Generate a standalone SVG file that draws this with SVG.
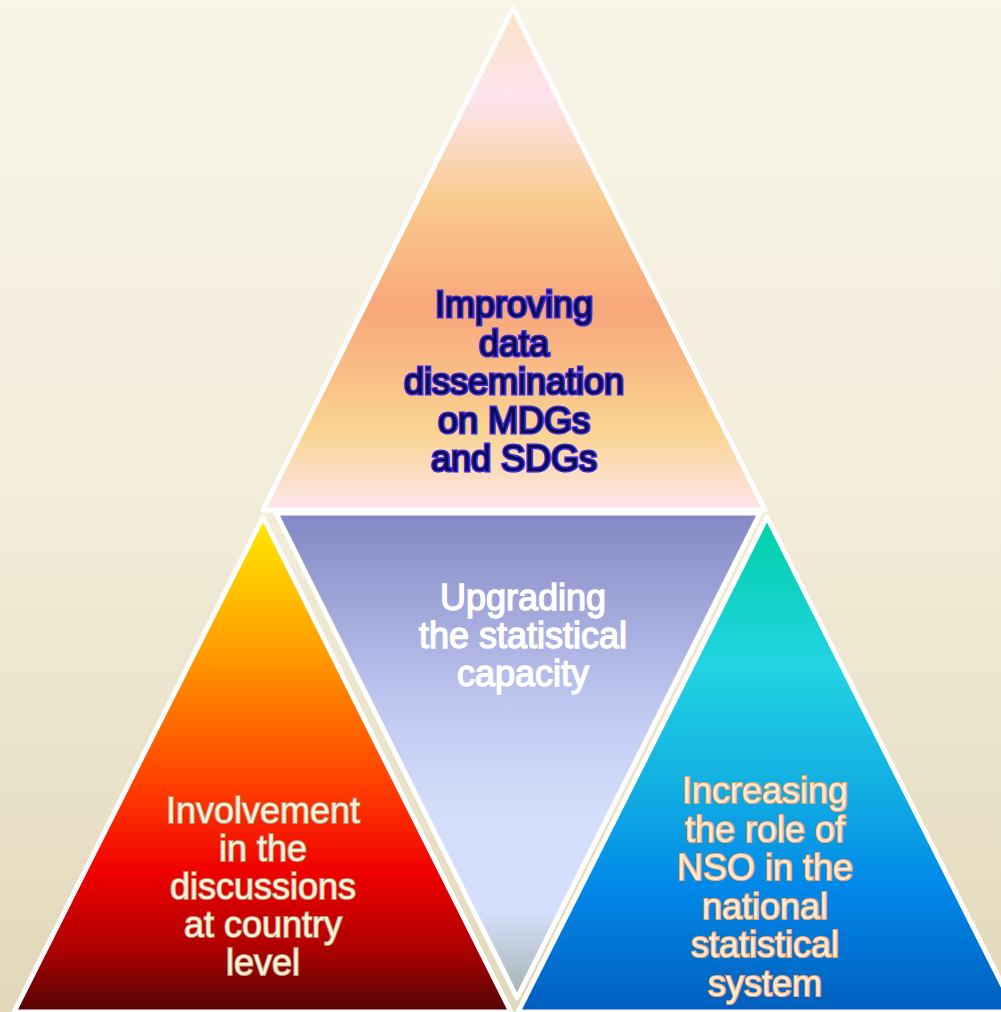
<svg xmlns="http://www.w3.org/2000/svg" width="1001" height="1012" viewBox="0 0 1001 1012">
<defs>
<linearGradient id="bg" x1="0" y1="0" x2="0" y2="1">
<stop offset="0" stop-color="#f8f5e9"/>
<stop offset="0.5" stop-color="#f2ecd9"/>
<stop offset="1" stop-color="#e2d8bb"/>
</linearGradient>
<linearGradient id="gTop" gradientUnits="userSpaceOnUse" x1="0" y1="8" x2="0" y2="510">
<stop offset="0" stop-color="#fae2c4"/>
<stop offset="0.18" stop-color="#fde4ee"/>
<stop offset="0.38" stop-color="#f9cb8e"/>
<stop offset="0.6" stop-color="#f8a77b"/>
<stop offset="0.84" stop-color="#fad390"/>
<stop offset="1" stop-color="#fde6ea"/>
</linearGradient>
<linearGradient id="gMid" gradientUnits="userSpaceOnUse" x1="0" y1="513" x2="0" y2="1000">
<stop offset="0" stop-color="#8387c3"/>
<stop offset="0.4" stop-color="#c0c8f1"/>
<stop offset="0.6" stop-color="#d3ddf9"/>
<stop offset="0.82" stop-color="#d5defa"/>
<stop offset="1" stop-color="#a3b2ae"/>
</linearGradient>
<linearGradient id="gLeft" gradientUnits="userSpaceOnUse" x1="0" y1="517" x2="0" y2="1010">
<stop offset="0" stop-color="#ffec00"/>
<stop offset="0.28" stop-color="#ff9a00"/>
<stop offset="0.55" stop-color="#ff3c00"/>
<stop offset="0.72" stop-color="#f00000"/>
<stop offset="0.87" stop-color="#b00000"/>
<stop offset="1" stop-color="#560404"/>
</linearGradient>
<linearGradient id="gRight" gradientUnits="userSpaceOnUse" x1="0" y1="517" x2="0" y2="1010">
<stop offset="0" stop-color="#00d0a6"/>
<stop offset="0.3" stop-color="#22d4e2"/>
<stop offset="0.55" stop-color="#12aee2"/>
<stop offset="0.75" stop-color="#0188e8"/>
<stop offset="1" stop-color="#005fbf"/>
</linearGradient>
<style>
.tri{stroke:#ffffff;stroke-width:5;stroke-linejoin:round}
text{font-family:"Liberation Sans",Arial,sans-serif;font-size:36px;text-anchor:middle;paint-order:stroke}
.tTop{fill:#0c0c4a;stroke:#3a2ae0;stroke-width:3.2}
.tMid{fill:#ffffff;stroke:#ffffff;stroke-width:1.4}
.tLeft{fill:#f7f1da;stroke:#b89070;stroke-width:2}
.tRight{fill:#fdeada;stroke:#f0a064;stroke-width:2.2}
</style>
</defs>
<rect x="0" y="0" width="1001" height="1012" fill="url(#bg)"/>
<g id="node-top">
<polygon class="tri" points="513,8 263,510 765,510" fill="url(#gTop)"/>
<text class="tTop" x="514" y="317">Improving</text>
<text class="tTop" x="514" y="355.5">data</text>
<text class="tTop" x="514" y="394">dissemination</text>
<text class="tTop" x="514" y="432.5">on MDGs</text>
<text class="tTop" x="514" y="471">and SDGs</text>
</g>
<g id="node-middle">
<polygon class="tri" points="276,513 760,513 517,998" fill="url(#gMid)"/>
<text class="tMid" x="523" y="610">Upgrading</text>
<text class="tMid" x="523" y="648">the statistical</text>
<text class="tMid" x="523" y="686">capacity</text>
</g>
<g id="node-left">
<polygon class="tri" points="263,517 14,1012 511,1012" fill="url(#gLeft)"/>
<text class="tLeft" x="263" y="823">Involvement</text>
<text class="tLeft" x="263" y="861">in the</text>
<text class="tLeft" x="263" y="899">discussions</text>
<text class="tLeft" x="263" y="937">at country</text>
<text class="tLeft" x="263" y="975">level</text>
</g>
<g id="node-right">
<polygon class="tri" points="767,517 518,1012 1016,1012" fill="url(#gRight)"/>
<text class="tRight" x="765" y="803">Increasing</text>
<text class="tRight" x="765" y="841.5">the role of</text>
<text class="tRight" x="765" y="880">NSO in the</text>
<text class="tRight" x="765" y="918.5">national</text>
<text class="tRight" x="765" y="957">statistical</text>
<text class="tRight" x="765" y="995.5">system</text>
</g>
<g id="connectors"/>
</svg>
